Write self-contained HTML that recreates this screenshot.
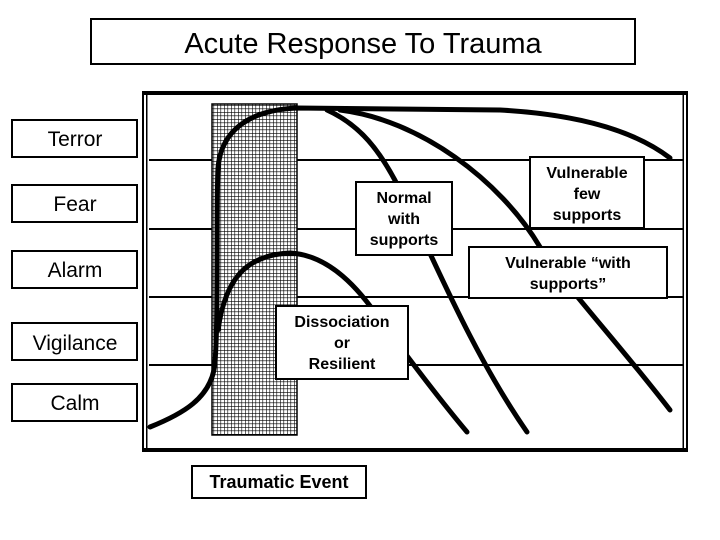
<!DOCTYPE html>
<html><head><style>
html,body{margin:0;padding:0;background:#fff;}
svg{display:block;}
text{font-family:"Liberation Sans",Arial,sans-serif;fill:#000;}
.b{font-weight:bold;font-size:16px;}
.l{font-size:21px;}
</style></head><body>
<svg width="720" height="540" viewBox="0 0 720 540" xmlns="http://www.w3.org/2000/svg">
<defs>
<pattern id="h" width="3.5" height="3.5" patternUnits="userSpaceOnUse">
<rect width="3.5" height="3.5" fill="#fff"/>
<path d="M0 0H3.5M0 0V3.5" stroke="#000" stroke-width="1.2"/>
</pattern>
</defs>
<rect x="91" y="19" width="544" height="45" fill="#fff" stroke="#000" stroke-width="2"/>
<text x="363" y="53" font-size="29" text-anchor="middle">Acute Response To Trauma</text>

<!-- frame -->
<rect x="142" y="91" width="546" height="4" fill="#000"/>
<rect x="142" y="448" width="546" height="4" fill="#000"/>
<rect x="142" y="91" width="2" height="361" fill="#000"/>
<rect x="146" y="93" width="1.5" height="357" fill="#000"/>
<rect x="686" y="91" width="2" height="361" fill="#000"/>
<rect x="682.5" y="93" width="1.5" height="357" fill="#000"/>
<g stroke="#000" stroke-width="2">
<line x1="149" y1="160" x2="684" y2="160"/>
<line x1="149" y1="229" x2="684" y2="229"/>
<line x1="149" y1="297" x2="684" y2="297"/>
<line x1="149" y1="365" x2="684" y2="365"/>
</g>
<rect x="212" y="104" width="85" height="331" fill="url(#h)" stroke="#000" stroke-width="1.5"/>

<g fill="none" stroke="#000" stroke-width="5" stroke-linecap="round">
<path d="M150 427 C185 413 208 398 214 370 C219 340 216 200 218 168 C221 130 250 110 297 108 L500 110 C590 115 640 135 670 158"/>
<path d="M327 110 C360 125 380 150 400 190 C430 250 470 350 527 432"/>
<path d="M340 110 C420 120 500 180 540 247 C560 280 620 345 670 410"/>
<path d="M218 330 C225 280 245 255 290 253 C330 255 360 290 380 320 C410 360 440 400 467 432"/>
</g>

<g fill="#fff" stroke="#000" stroke-width="2">
<rect x="356" y="182" width="96" height="73"/>
<rect x="530" y="157" width="114" height="71"/>
<rect x="469" y="247" width="198" height="51"/>
<rect x="276" y="306" width="132" height="73"/>
<rect x="192" y="466" width="174" height="32"/>
<rect x="12" y="120" width="125" height="37"/>
<rect x="12" y="185" width="125" height="37"/>
<rect x="12" y="251" width="125" height="37"/>
<rect x="12" y="323" width="125" height="37"/>
<rect x="12" y="384" width="125" height="37"/>
</g>

<g class="b" text-anchor="middle">
<text x="404" y="203">Normal</text>
<text x="404" y="224">with</text>
<text x="404" y="245">supports</text>
<text x="587" y="178">Vulnerable</text>
<text x="587" y="199">few</text>
<text x="587" y="220">supports</text>
<text x="568" y="268">Vulnerable “with</text>
<text x="568" y="289">supports”</text>
<text x="342" y="327">Dissociation</text>
<text x="342" y="348">or</text>
<text x="342" y="369">Resilient</text>
<text x="279" y="488" font-size="18">Traumatic Event</text>
</g>
<g class="l" text-anchor="middle">
<text x="75" y="146">Terror</text>
<text x="75" y="211">Fear</text>
<text x="75" y="277">Alarm</text>
<text x="75" y="350">Vigilance</text>
<text x="75" y="410">Calm</text>
</g>
</svg>
</body></html>
